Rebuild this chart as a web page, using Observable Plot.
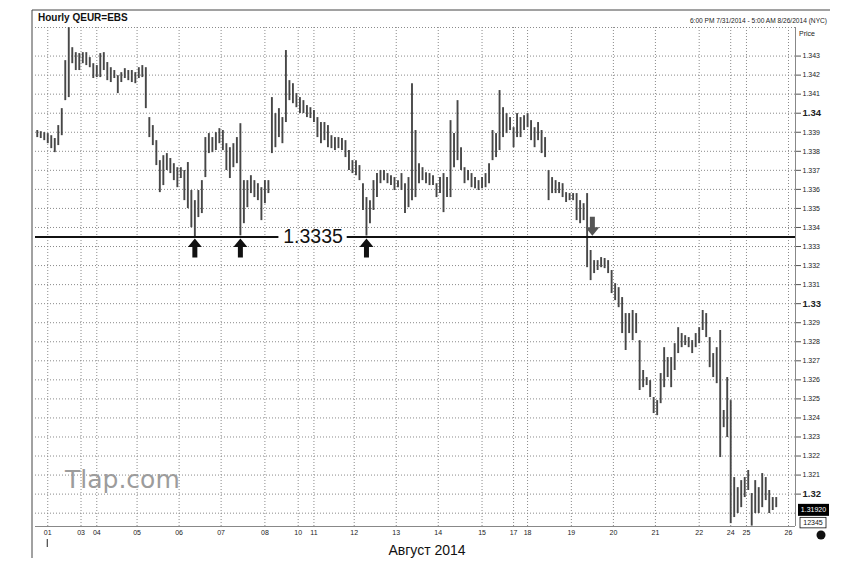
<!DOCTYPE html>
<html><head><meta charset="utf-8">
<script src="https://cdn.jsdelivr.net/npm/d3@7"></script>
<script src="https://cdn.jsdelivr.net/npm/@observablehq/plot@0.6"></script>
<style>body{margin:0;background:#fff;} svg{display:block}</style>
</head><body><div id="chart"></div>
<script>
// ---- data (hourly EUR/USD, one bar per 2 trading hours) ----
const firstHour = 1, stepHours = 2;
const high = [
1.33909,1.33903,1.33898,1.33893,1.33882,1.33867,1.33935,1.34024,1.34276,1.34449,
1.34344,1.34318,1.34313,1.34318,1.34318,1.34292,1.34260,1.34250,1.34313,1.34318,
1.34266,1.34239,1.34224,1.34197,1.34213,1.34234,1.34224,1.34224,1.34213,1.34239,
1.34250,1.34239,1.33977,1.33935,1.33856,1.33751,1.33777,1.33788,1.33762,1.33735,
1.33714,1.33714,1.33699,1.33741,1.33594,1.33541,1.33594,1.33646,1.33872,1.33893,
1.33872,1.33898,1.33919,1.33909,1.33840,1.33819,1.33840,1.33872,1.33945,1.33646,
1.33646,1.33672,1.33646,1.33630,1.33609,1.33646,1.33646,1.34082,1.33998,1.34024,
1.33977,1.34329,1.34171,1.34155,1.34103,1.34082,1.34066,1.34040,1.34029,1.34014,
1.33977,1.33951,1.33951,1.33935,1.33882,1.33872,1.33872,1.33867,1.33856,1.33804,
1.33751,1.33751,1.33725,1.33630,1.33557,1.33541,1.33646,1.33683,1.33699,1.33699,
1.33683,1.33672,1.33662,1.33646,1.33683,1.33630,1.33662,1.34155,1.33909,1.33735,
1.33714,1.33688,1.33683,1.33672,1.33630,1.33662,1.33683,1.33662,1.33961,1.33893,
1.34066,1.33819,1.33714,1.33699,1.33683,1.33662,1.33646,1.33662,1.33683,1.33735,
1.33909,1.33893,1.34119,1.34029,1.33998,1.33977,1.33924,1.33998,1.33977,1.33987,
1.33998,1.33961,1.33924,1.33951,1.33909,1.33872,1.33699,1.33662,1.33646,1.33636,
1.33630,1.33583,1.33578,1.33578,1.33578,1.33541,1.33525,1.33578,1.33279,1.33226,
1.33226,1.33242,1.33237,1.33226,1.33174,1.33105,1.33084,1.33032,1.32948,1.32948,
1.32964,1.32948,1.32806,1.32649,1.32612,1.32596,1.32507,1.32491,1.32633,1.32769,
1.32717,1.32717,1.32790,1.32874,1.32843,1.32832,1.32822,1.32806,1.32843,1.32874,
1.32964,1.32948,1.32822,1.32738,1.32769,1.32859,1.32439,1.32612,1.32491,1.32087,
1.32034,1.32071,1.32087,1.32124,1.32003,1.32071,1.32034,1.32108,1.32087,1.32019,
1.31982,1.31982];
const low = [
1.33872,1.33867,1.33856,1.33840,1.33814,1.33793,1.33830,1.33882,1.34066,1.34082,
1.34260,1.34224,1.34224,1.34260,1.34250,1.34239,1.34182,1.34187,1.34187,1.34224,
1.34171,1.34161,1.34182,1.34103,1.34161,1.34182,1.34171,1.34161,1.34155,1.34182,
1.34187,1.34024,1.33872,1.33830,1.33725,1.33583,1.33620,1.33699,1.33683,1.33646,
1.33609,1.33657,1.33541,1.33499,1.33399,1.33352,1.33452,1.33473,1.33662,1.33788,
1.33793,1.33804,1.33840,1.33804,1.33699,1.33657,1.33714,1.33735,1.33356,1.33420,
1.33504,1.33578,1.33557,1.33541,1.33436,1.33525,1.33578,1.33788,1.33819,1.33872,
1.33840,1.33951,1.34066,1.34050,1.34029,1.33998,1.33998,1.33977,1.33972,1.33951,
1.33872,1.33840,1.33856,1.33819,1.33814,1.33804,1.33814,1.33804,1.33767,1.33699,
1.33683,1.33672,1.33646,1.33489,1.33355,1.33420,1.33489,1.33557,1.33630,1.33646,
1.33630,1.33620,1.33594,1.33609,1.33594,1.33473,1.33504,1.33541,1.33557,1.33630,
1.33646,1.33630,1.33620,1.33620,1.33557,1.33578,1.33478,1.33557,1.33557,1.33714,
1.33751,1.33699,1.33630,1.33646,1.33609,1.33604,1.33594,1.33604,1.33609,1.33630,
1.33751,1.33767,1.33804,1.33872,1.33893,1.33909,1.33819,1.33872,1.33872,1.33909,
1.33924,1.33856,1.33819,1.33856,1.33788,1.33767,1.33541,1.33578,1.33578,1.33578,
1.33557,1.33531,1.33541,1.33541,1.33436,1.33420,1.33436,1.33189,1.33121,1.33158,
1.33174,1.33189,1.33184,1.33158,1.33053,1.33016,1.32979,1.32843,1.32754,1.32843,
1.32806,1.32843,1.32544,1.32559,1.32570,1.32507,1.32423,1.32412,1.32475,1.32559,
1.32612,1.32559,1.32649,1.32738,1.32769,1.32780,1.32769,1.32738,1.32769,1.32790,
1.32859,1.32822,1.32664,1.32612,1.32580,1.32192,1.32349,1.32297,1.31845,1.31877,
1.31898,1.31929,1.31982,1.32019,1.31832,1.31898,1.31898,1.31929,1.31966,1.31898,
1.31914,1.31929];

const dayLabels   = ["01","03","04","05","06","07","08","10","11","12","13","14","15","17","18","19","20","21","22","24","25","26"];
const dayTickHours = [7,26,35,58,82,106,131,150,159,182,206,230,255,273,281,306,330,354,379,397,406,430];
const priceTicks = [1.319,1.32,1.321,1.322,1.323,1.324,1.325,1.326,1.327,1.328,1.329,1.33,
                    1.331,1.332,1.333,1.334,1.335,1.336,1.337,1.338,1.339,1.34,1.341,1.342,1.343];
const labeledPriceTicks = [1.32,1.321,1.322,1.323,1.324,1.325,1.326,1.327,1.328,1.329,1.33,
                    1.331,1.332,1.333,1.334,1.335,1.336,1.337,1.338,1.339,1.34,1.341,1.342,1.343];
const boldPriceTicks = [1.32,1.33,1.34];
const supportLevel = 1.3335;
const supportLabel = "1.3335";
const labelGapHours = [139, 178];
const touchHours = [91, 117, 189];
const breakHour = 318;
const lastPrice = 1.3192;
const volumeText = "12345";
const titleText = "Hourly QEUR=EBS";
const rangeText = "6:00 PM 7/31/2014 - 5:00 AM 8/26/2014 (NYC)";
const monthText = "Август 2014";
const watermark = "Tlap.com";

// ---- chart ----
const bars = high.map((h, i) => ({hour: firstHour + i * stepHours, high: h, low: low[i]}));
const xDomain = [0, 434];
const yDomain = [1.3183, 1.3445];
const labelOf = new Map(dayTickHours.map((h, i) => [h, dayLabels[i]]));
const regularTicks = labeledPriceTicks.filter(t => !boldPriceTicks.includes(t));
const dotted = {stroke: "#8a8a8a", strokeOpacity: 1, strokeWidth: 1, strokeDasharray: "1,2"};
const arrowShape = {
  draw(ctx, l) {
    const hw = 7, sw = 2.5, hh = 8.5;
    ctx.moveTo(-sw, 0); ctx.lineTo(-sw, hh - l); ctx.lineTo(-hw, hh - l);
    ctx.lineTo(0, -l); ctx.lineTo(hw, hh - l); ctx.lineTo(sw, hh - l);
    ctx.lineTo(sw, 0); ctx.closePath();
  }
};

const chart = Plot.plot({
  width: 855, height: 567,
  marginTop: 27, marginBottom: 41, marginLeft: 35, marginRight: 60,
  x: {domain: xDomain, axis: null},
  y: {domain: yDomain, axis: null},
  style: {fontFamily: "'Liberation Sans', Arial, sans-serif", color: "#222", background: "white"},
  marks: [
    Plot.gridX(dayTickHours, dotted),
    Plot.gridY(priceTicks, dotted),
    Plot.ruleY([yDomain[1]], dotted),
    Plot.ruleY([yDomain[0]], {stroke: "#888"}),
    Plot.ruleX([xDomain[1]], {stroke: "#888"}),
    Plot.ruleX(bars, {x: "hour", y1: "low", y2: "high", stroke: "#474747", strokeWidth: 1.9}),
    Plot.ruleY([{from: xDomain[0], to: labelGapHours[0]}, {from: labelGapHours[1], to: xDomain[1]}],
      {y: () => supportLevel, x1: "from", x2: "to", stroke: "#111", strokeWidth: 2}),
    Plot.text([supportLabel], {x: () => (labelGapHours[0] + labelGapHours[1]) / 2, y: () => supportLevel,
      text: d => d, fontSize: 19.5, fill: "#111"}),
    Plot.vector(touchHours, {x: d => d, y: () => supportLevel - 0.00008, length: 19, anchor: "end",
      shape: arrowShape, fill: "#111", stroke: "none"}),
    Plot.vector([breakHour], {x: d => d, y: () => supportLevel + 0.00006, length: 19, rotate: 180, anchor: "end",
      shape: arrowShape, fill: "#555", stroke: "none"}),
    Plot.axisY(regularTicks, {anchor: "right", tickSize: 5, tickPadding: 2, fontSize: 7,
      tickFormat: d => d.toFixed(3), stroke: "#555"}),
    Plot.axisY(boldPriceTicks, {anchor: "right", tickSize: 5, tickPadding: 2, fontSize: 9.5, fontWeight: "bold",
      tickFormat: d => d.toFixed(2), stroke: "#555"}),
    Plot.axisX(dayTickHours, {anchor: "bottom", tickSize: 0, tickPadding: 4, fontSize: 7,
      tickFormat: h => labelOf.get(h)})
  ]
});
document.getElementById("chart").appendChild(chart);

// ---- decorations ----
const svg = d3.select(chart);
const sx = chart.scale("x"), sy = chart.scale("y");
const ff = "'Liberation Sans', Arial, sans-serif";
const deco = svg.append("g").attr("text-anchor", "start");
deco.append("line").attr("x1", 32).attr("y1", 10).attr("x2", 830).attr("y2", 10).attr("stroke", "#444");
deco.append("line").attr("x1", 32).attr("y1", 10).attr("x2", 32).attr("y2", 558).attr("stroke", "#444");
deco.append("text").text(titleText).attr("x", 38).attr("y", 20.5).attr("text-anchor", "start")
  .attr("font-family", ff).attr("font-size", 10).attr("font-weight", "bold").attr("fill", "#111");
deco.append("text").text(rangeText).attr("x", 827).attr("y", 23).attr("text-anchor", "end")
  .attr("font-family", ff).attr("font-size", 6.6).attr("fill", "#222");
deco.append("text").text("Price").attr("x", 799).attr("y", 35.5).attr("text-anchor", "start")
  .attr("font-family", ff).attr("font-size", 7).attr("fill", "#222");
deco.append("text").text(watermark).attr("x", 65).attr("y", 488).attr("text-anchor", "start")
  .attr("font-family", "'DejaVu Sans', sans-serif").attr("font-size", 25).attr("fill", "#9c9c9c");
deco.append("text").text(monthText).attr("x", 427).attr("y", 555).attr("text-anchor", "middle")
  .attr("font-family", ff).attr("font-size", 14).attr("fill", "#111");
const x01 = sx.apply(dayTickHours[0]);
deco.append("line").attr("x1", x01).attr("x2", x01).attr("y1", 539).attr("y2", 547).attr("stroke", "#222");
const yl = sy.apply(lastPrice);
deco.append("rect").attr("x", 798).attr("y", yl - 5).attr("width", 31).attr("height", 12).attr("fill", "#000");
deco.append("text").text(lastPrice.toFixed(5)).attr("x", 813.5).attr("y", yl + 3.5).attr("text-anchor", "middle")
  .attr("font-family", ff).attr("font-size", 7).attr("fill", "#fff");
deco.append("rect").attr("x", 800).attr("y", yl + 8.5).attr("width", 26).attr("height", 10.5)
  .attr("fill", "#fff").attr("stroke", "#111").attr("stroke-width", 0.8);
deco.append("text").text(volumeText).attr("x", 813).attr("y", yl + 16.5).attr("text-anchor", "middle")
  .attr("font-family", ff).attr("font-size", 7).attr("fill", "#111");
deco.append("circle").attr("cx", 821).attr("cy", 535).attr("r", 4.5).attr("fill", "#111");
</script></body></html>
